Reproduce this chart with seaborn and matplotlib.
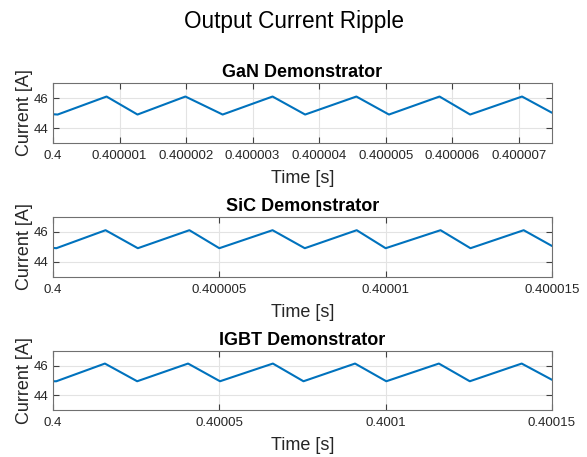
import matplotlib
matplotlib.use("Agg")
import matplotlib.pyplot as plt
import seaborn as sns
import pandas as pd

# ---- data (vertices) ----
gan_time = [0.4, 0.40000007, 0.400000805, 0.40000127, 0.40000199, 0.40000255, 0.4000033,
            0.40000379, 0.40000456, 0.40000505, 0.40000581, 0.40000627, 0.40000705, 0.4000075]
gan_current = [44.92, 44.9, 46.1, 44.9, 46.1, 44.9, 46.1, 44.9, 46.1, 44.9, 46.1, 44.9, 46.1, 45.02]

sic_time = [0.4, 0.4000001, 0.40000158, 0.40000255, 0.4000041, 0.400005, 0.4000066,
            0.40000757, 0.40000913, 0.40001, 0.40001165, 0.40001255, 0.40001415, 0.400015]
sic_current = [44.92, 44.9, 46.1, 44.9, 46.1, 44.9, 46.1, 44.9, 46.1, 44.9, 46.1, 44.9, 46.1, 45.05]

igbt_time = [0.4, 0.400001, 0.4000156, 0.4000253, 0.4000406, 0.4000502, 0.4000661,
             0.4000753, 0.4000908, 0.4001002, 0.400116, 0.4001253, 0.4001409, 0.40015]
igbt_current = [44.95, 44.95, 46.15, 44.95, 46.15, 44.95, 46.15, 44.95, 46.15, 44.95, 46.15, 44.95, 46.15, 45.05]

titles = ["GaN Demonstrator", "SiC Demonstrator", "IGBT Demonstrator"]
gan_ticks = [0.4, 0.400001, 0.400002, 0.400003, 0.400004, 0.400005, 0.400006, 0.400007]
gan_ticklabels = ["0.4", "0.400001", "0.400002", "0.400003", "0.400004", "0.400005", "0.400006", "0.400007"]
sic_ticks = [0.4, 0.400005, 0.40001, 0.400015]
sic_ticklabels = ["0.4", "0.400005", "0.40001", "0.400015"]
igbt_ticks = [0.4, 0.40005, 0.4001, 0.40015]
igbt_ticklabels = ["0.4", "0.40005", "0.4001", "0.40015"]
y_ticks = [44, 46]
y_ticklabels = ["44", "46"]

sns.set_theme(style="white")
plt.rcParams['font.family'] = ['Liberation Sans', 'DejaVu Sans']

fig = plt.figure(figsize=(5.87, 4.57), dpi=100)
fig.suptitle("Output Current Ripple", fontsize=16.3, y=0.979, color="black")

panels = [
    (gan_time, gan_current, gan_ticks, gan_ticklabels, 0.6870, 0.1313, (0.4, 0.4000075)),
    (sic_time, sic_current, sic_ticks, sic_ticklabels, 0.3945, 0.1313, (0.4, 0.400015)),
    (igbt_time, igbt_current, igbt_ticks, igbt_ticklabels, 0.1028, 0.1291, (0.4, 0.40015)),
]

grey = "#262626"
for (t, c, ticks, tlabels, bottom, height, xlim), title in zip(panels, titles):
    ax = fig.add_axes([0.0903, bottom, 0.850, height])
    df = pd.DataFrame({"t": t, "c": c})
    sns.lineplot(data=df, x="t", y="c", ax=ax, color="#0072BD", linewidth=1.5,
                 estimator=None, sort=False)
    ax.set_xlim(*xlim)
    ax.set_ylim(43, 47)
    ax.set_xticks(ticks)
    ax.set_xticklabels(tlabels)
    ax.set_yticks(y_ticks)
    ax.set_yticklabels(y_ticklabels)
    ax.grid(True, color="#e3e3e3", linewidth=0.8)
    ax.set_axisbelow(True)
    for s in ax.spines.values():
        s.set_color("#707070")
        s.set_linewidth(0.8)
    ax.tick_params(direction="in", length=4, width=0.8, color="#404040",
                   labelsize=9.5, labelcolor=grey, top=True, right=True,
                   bottom=True, left=True)
    ax.tick_params(axis="x", pad=5)
    ax.tick_params(axis="y", pad=3.5)
    ax.set_title(title, fontsize=13, fontweight="bold", color="black", pad=4)
    ax.set_xlabel("Time [s]", fontsize=13, color=grey, labelpad=6)
    ax.set_ylabel("Current [A]", fontsize=13, color=grey, labelpad=0.5)

fig.savefig("out.png", dpi=100)
